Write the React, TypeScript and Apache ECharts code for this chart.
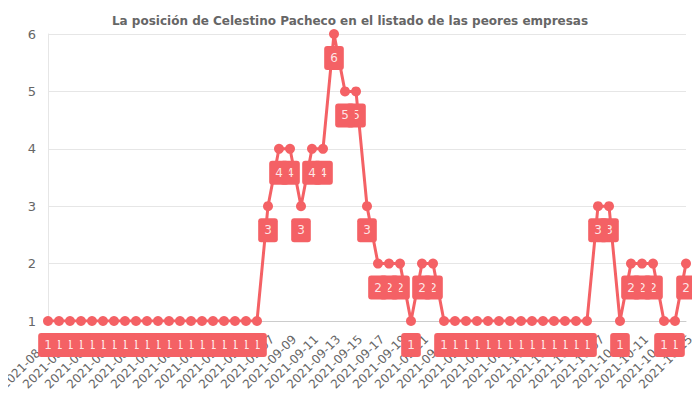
import React, { useEffect, useRef } from 'react';
import * as echarts from 'echarts';

const titleText = 'La posición de Celestino Pacheco en el listado de las peores empresas';

// one category per day, 2021-08-18 .. 2021-10-15
const startDate = '2021-08-18';
const positions = [
  1, 1, 1, 1, 1, 1, 1, 1, 1, 1,
  1, 1, 1, 1, 1, 1, 1, 1, 1, 1,
  3, 4, 4, 3, 4, 4, 6, 5, 5, 3,
  2, 2, 2, 1, 2, 2, 1, 1, 1, 1,
  1, 1, 1, 1, 1, 1, 1, 1, 1, 1,
  3, 3, 1, 2, 2, 2, 1, 1, 2,
];
const yTicks = [1, 2, 3, 4, 5, 6];

const pad = (n: number) => (n < 10 ? '0' + n : '' + n);
const days: string[] = positions.map((_, i) => {
  const d = new Date(startDate + 'T00:00:00Z');
  d.setUTCDate(d.getUTCDate() + i);
  return `${d.getUTCFullYear()}-${pad(d.getUTCMonth() + 1)}-${pad(d.getUTCDate())}`;
});

const red = '#f46165';

const App = () => {
  const chartRef = useRef<any>(null);

  useEffect(() => {
    const chart = echarts.init(chartRef.current, null, { renderer: 'svg' });

    // reversed order + inverse axis, so that earlier labels sit on top of later ones
    const revDays = days.slice().reverse();
    const revPositions = positions.slice().reverse();

    const option: any = {
      animation: false,
      textStyle: { fontFamily: 'DejaVu Sans' },
      title: {
        text: titleText,
        left: 'center',
        top: 2,
        textStyle: { fontSize: 12, fontWeight: 'bold', color: '#666' },
      },
      grid: { left: 40, right: 6, top: 26, bottom: 71, outerBoundsMode: 'none', containLabel: false },
      xAxis: {
        type: 'category',
        data: revDays,
        inverse: true,
        boundaryGap: false,
        axisLine: { lineStyle: { color: '#ccc' } },
        axisTick: { show: false },
        axisLabel: {
          rotate: 45,
          color: '#666',
          fontSize: 12,
          margin: 12,
          interval: 1,
          verticalAlign: 'top',
        },
      },
      yAxis: {
        type: 'value',
        min: yTicks[0],
        max: yTicks[yTicks.length - 1],
        interval: 1,
        axisLine: { show: true, lineStyle: { color: '#e6e6e6' } },
        axisLabel: { color: '#666', fontSize: 13, margin: 12 },
        splitLine: { lineStyle: { color: '#e6e6e6' } },
      },
      series: [
        {
          name: 'Posición',
          type: 'line',
          data: revPositions,
          symbol: 'circle',
          symbolSize: 10,
          showAllSymbol: true,
          lineStyle: { color: red, width: 3 },
          itemStyle: { color: red },
          labelLayout: { hideOverlap: false },
          label: {
            show: true,
            position: 'bottom',
            distance: 7,
            color: 'rgba(255,255,255,0.85)',
            fontSize: 12,
            backgroundColor: red,
            borderRadius: 3,
            padding: [6, 6],
          },
        },
      ],
    };

    chart.setOption(option);

    return () => {
      chart.dispose();
    };
  }, []);

  return <div ref={chartRef} style={{ width: '684px', height: '384px' }} />;
};

export default App;
